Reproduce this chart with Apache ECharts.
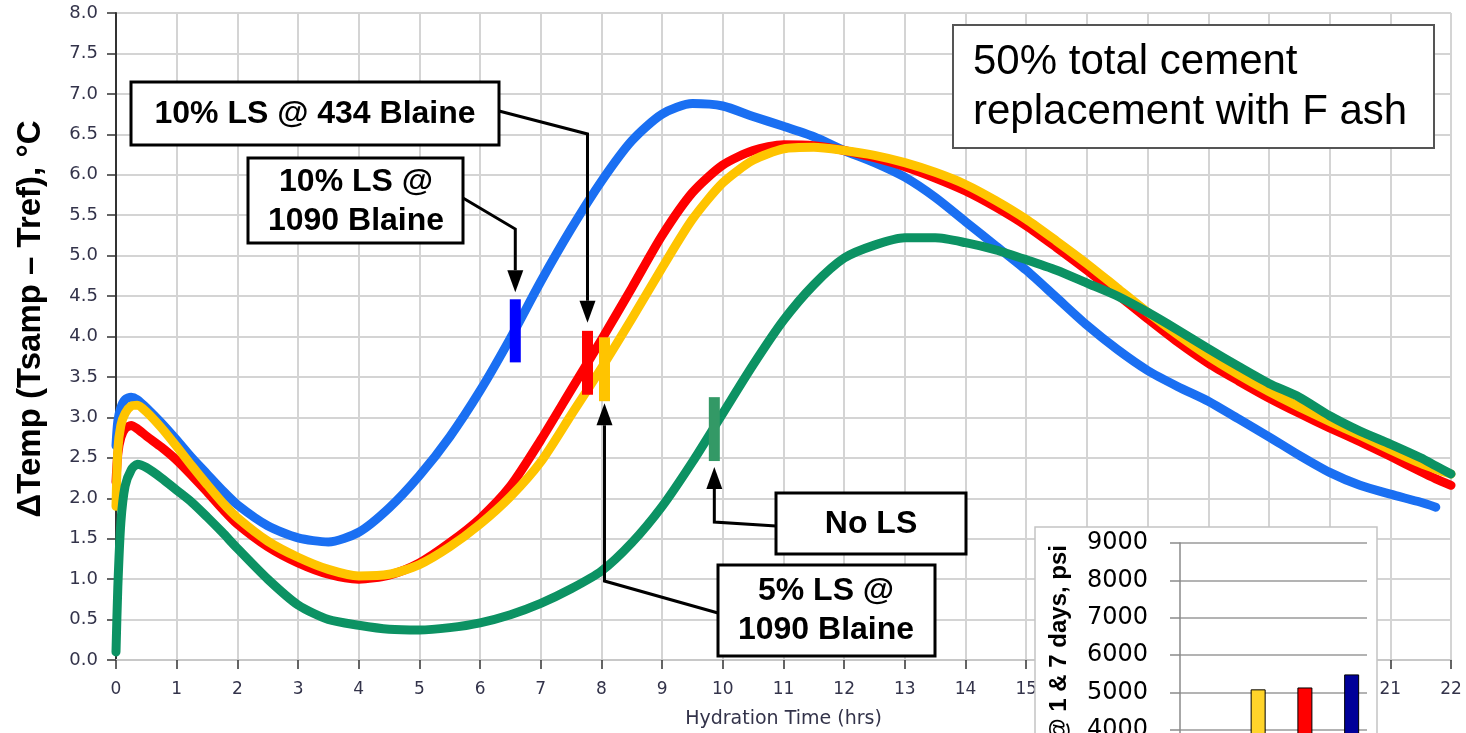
<!DOCTYPE html>
<html>
<head>
<meta charset="utf-8">
<script src="https://cdn.jsdelivr.net/npm/echarts/dist/echarts.min.js"></script>
<style>
  html, body { margin: 0; padding: 0; background: #fff; }
  #chart { width: 1466px; height: 733px; }
</style>
</head>
<body>
<div id="chart"></div>
<script>
// Hydration time (hrs) shared by all four calorimetry curves
const hours = [0, 0.03, 0.08, 0.15, 0.25, 0.35, 0.5, 0.75, 1, 1.25, 1.5, 1.75, 2, 2.5, 3, 3.5, 4, 4.5, 5, 5.5,
  6, 6.5, 7, 7.5, 8, 8.5, 9, 9.5, 10, 10.5, 11, 11.5, 12, 12.5, 13, 13.5, 14, 14.5, 15, 15.5,
  16, 16.5, 17, 17.5, 18, 18.5, 19, 19.5, 20, 20.5, 21, 21.5, 21.75, 22];

// ΔTemp (°C) per mix
const ls10Blaine1090 = [2.65, 2.95, 3.12, 3.22, 3.25, 3.22, 3.12, 2.93, 2.72, 2.5, 2.3, 2.1, 1.92, 1.66, 1.51, 1.46, 1.58, 1.88, 2.28, 2.76,
  3.33, 3.98, 4.68, 5.33, 5.92, 6.42, 6.75, 6.88, 6.85, 6.72, 6.6, 6.47, 6.3, 6.15, 5.97, 5.72, 5.42, 5.12, 4.82, 4.48,
  4.14, 3.84, 3.58, 3.38, 3.2, 2.98, 2.76, 2.53, 2.32, 2.16, 2.05, 1.95, 1.89, null];
const ls10Blaine434 = [2.2, 2.55, 2.75, 2.86, 2.9, 2.86, 2.77, 2.63, 2.47, 2.28, 2.08, 1.87, 1.68, 1.4, 1.2, 1.06, 1.0, 1.05, 1.2, 1.45,
  1.75, 2.15, 2.72, 3.34, 3.96, 4.6, 5.25, 5.78, 6.12, 6.3, 6.37, 6.36, 6.3, 6.21, 6.1, 5.96, 5.8, 5.6, 5.37, 5.1,
  4.82, 4.52, 4.22, 3.93, 3.67, 3.45, 3.24, 3.05, 2.87, 2.7, 2.52, 2.33, 2.24, 2.16];
const ls5Blaine1090 = [1.9, 2.6, 2.9, 3.05, 3.14, 3.15, 3.07, 2.87, 2.64, 2.4, 2.17, 1.95, 1.76, 1.47, 1.27, 1.12, 1.04, 1.06, 1.18, 1.4,
  1.68, 2.02, 2.45, 3.03, 3.61, 4.22, 4.85, 5.45, 5.9, 6.18, 6.32, 6.34, 6.3, 6.24, 6.15, 6.03, 5.88, 5.68, 5.45, 5.18,
  4.9, 4.6, 4.3, 4.02, 3.76, 3.53, 3.32, 3.13, 2.95, 2.78, 2.6, 2.43, 2.36, 2.3];
const noLS = [0.1, 0.9, 1.7, 2.15, 2.35, 2.42, 2.38, 2.25, 2.1, 1.95, 1.77, 1.58, 1.38, 1.0, 0.68, 0.5, 0.43, 0.38, 0.37, 0.4,
  0.46, 0.56, 0.7, 0.88, 1.1, 1.45, 1.9, 2.45, 3.05, 3.65, 4.2, 4.64, 4.97, 5.13, 5.22, 5.22, 5.16, 5.07, 4.95, 4.82,
  4.66, 4.5, 4.3, 4.08, 3.85, 3.63, 3.42, 3.25, 3.02, 2.83, 2.67, 2.5, 2.4, 2.3];

// Set-time markers: hour, low and high ΔTemp of each bar
// order: 10% LS @ 1090, 10% LS @ 434, 5% LS @ 1090, No LS
const setHours = [6.58, 7.77, 8.05, 9.86];
const setLow = [3.68, 3.28, 3.20, 2.46];
const setHigh = [4.46, 4.07, 3.99, 3.25];

// Inset: compressive strength, psi
const mixNames = ['No LS', '5% LS @ 1090 Blaine', '10% LS @ 434 Blaine', '10% LS @ 1090 Blaine'];
const strength1Day = [null, null, null, null];
const strength7Day = [null, 5080, 5130, 5480];
const strengthTicks = [0, 9000, 1000];

const yTicks = [0, 8, 0.5];
const xTicks = [0, 22, 1];

const curveColors = ['#1a6ff2', '#ff0000', '#ffc400', '#0c9263'];
const setColors = ['#0000ff', '#ff0000', '#ffc400', '#339966'];
const barColors = ['#0c9263', '#ffd42a', '#ff0000', '#000099'];

const chart = echarts.init(document.getElementById('chart'), null, { renderer: 'canvas' });

const tickFont = 'DejaVu Sans';
const boxFont = 'Liberation Sans';
const tickInk = '#33334a';

function curve(name, values, color) {
  return {
    name, type: 'line', xAxisIndex: 0, yAxisIndex: 0,
    data: hours.map((h, i) => [h, values[i]]),
    showSymbol: false, smooth: 0.25, connectNulls: false,
    lineStyle: { color, width: 9, cap: 'round', join: 'round' },
    z: 2, silent: true, animation: false
  };
}

chart.setOption({
  animation: false,
  backgroundColor: '#fff',
  grid: [
    { left: 116, top: 13, width: 1335, height: 647, outerBoundsMode: 'none' },
    // strength panel runs past the lower edge of the page
    { left: 1180, top: 543, width: 187, height: 336, outerBoundsMode: 'none' }
  ],
  xAxis: [
    {
      type: 'value', gridIndex: 0, min: xTicks[0], max: xTicks[1], interval: xTicks[2],
      name: 'Hydration Time (hrs)', nameLocation: 'middle', nameGap: 50,
      nameTextStyle: { fontFamily: tickFont, fontSize: 19, color: tickInk },
      axisLine: { show: true, lineStyle: { color: '#c8c8c8', width: 2 } },
      axisTick: { show: true, length: 9, lineStyle: { color: '#333', width: 1.5 } },
      axisLabel: { margin: 21, fontFamily: tickFont, fontSize: 17, color: tickInk },
      splitLine: { show: true, lineStyle: { color: '#d4d4d4', width: 2 } }
    },
    {
      type: 'category', gridIndex: 1, data: mixNames, z: 10,
      axisLine: { show: false }, axisTick: { show: false }, axisLabel: { show: false },
      splitLine: { show: false }
    }
  ],
  yAxis: [
    {
      type: 'value', gridIndex: 0, min: yTicks[0], max: yTicks[1], interval: yTicks[2],
      axisLine: { show: true, onZero: false, lineStyle: { color: '#333', width: 2 } },
      axisTick: { show: true, length: 9, lineStyle: { color: '#333', width: 1.5 } },
      axisLabel: { margin: 18, fontFamily: tickFont, fontSize: 18, color: tickInk,
        formatter: v => v.toFixed(1) },
      splitLine: { show: true, lineStyle: { color: '#d4d4d4', width: 2 } }
    },
    {
      type: 'value', gridIndex: 1, min: strengthTicks[0], max: strengthTicks[1], interval: strengthTicks[2], z: 10,
      axisLine: { show: true, lineStyle: { color: '#8a8a8a', width: 1.5 } },
      axisTick: { show: true, length: 10, lineStyle: { color: '#8a8a8a', width: 1.5 } },
      axisLabel: { margin: 32, fontFamily: tickFont, fontSize: 24, color: '#000',
        formatter: v => String(v) },
      splitLine: { show: true, lineStyle: { color: '#9a9a9a', width: 1.5 } }
    }
  ],
  series: [
    curve('10% LS @ 1090 Blaine', ls10Blaine1090, curveColors[0]),
    curve('10% LS @ 434 Blaine', ls10Blaine434, curveColors[1]),
    curve('5% LS @ 1090 Blaine', ls5Blaine1090, curveColors[2]),
    curve('No LS', noLS, curveColors[3]),
    {
      name: 'set', type: 'custom', xAxisIndex: 0, yAxisIndex: 0, z: 4, silent: true,
      encode: { x: 0, y: [1, 2] },
      data: setHours.map((h, i) => [h, setLow[i], setHigh[i], i]),
      renderItem: (params, api) => {
        const lo = api.coord([api.value(0), api.value(1)]);
        const hi = api.coord([api.value(0), api.value(2)]);
        return {
          type: 'rect',
          shape: { x: lo[0] - 5.5, y: hi[1], width: 11, height: lo[1] - hi[1] },
          style: { fill: setColors[api.value(3)] }
        };
      }
    },
    {
      name: '1 day', type: 'bar', xAxisIndex: 1, yAxisIndex: 1, z: 10, silent: true,
      barWidth: 15, barGap: '7%',
      data: strength1Day.map((v, i) => ({ value: v, itemStyle: { color: barColors[i] } })),
      itemStyle: { borderColor: '#000', borderWidth: 1 }
    },
    {
      name: '7 days', type: 'bar', xAxisIndex: 1, yAxisIndex: 1, z: 10, silent: true,
      barWidth: 15, barGap: '7%',
      data: strength7Day.map((v, i) => ({ value: v, itemStyle: { color: barColors[i] } })),
      itemStyle: { borderColor: '#000', borderWidth: 1 }
    }
  ]
});

// Annotation callouts, anchored to the set-time bars
const px = (h, v) => chart.convertToPixel({ xAxisIndex: 0, yAxisIndex: 0 }, [h, v]);
const blueTop = px(setHours[0], setHigh[0]);
const redTop = px(setHours[1], setHigh[1]);
const yellowBot = px(setHours[2], setLow[2]);
const greenBot = px(setHours[3], setLow[3]);

const ink = '#000';
const headW = 8, headH = 22;

function box(x, y, w, h, z) {
  return { type: 'rect', z, shape: { x, y, width: w, height: h },
    style: { fill: '#fff', stroke: ink, lineWidth: 3 } };
}
function label(text, x, y, z) {
  return { type: 'text', z, x, y,
    style: { text, fill: ink, font: 'bold 32px "' + boxFont + '"', align: 'center',
      verticalAlign: 'middle', lineHeight: 39 } };
}
function leader(points, tipX, tipY, down, z) {
  const baseY = down ? tipY - headH : tipY + headH;
  const path = points.concat([[tipX, baseY]]);
  return [
    { type: 'polyline', z, shape: { points: path }, style: { stroke: ink, lineWidth: 3, fill: null } },
    { type: 'polygon', z, shape: { points: [[tipX, tipY], [tipX - headW, baseY], [tipX + headW, baseY]] },
      style: { fill: ink } }
  ];
}

const Z = 20;
const redTip = redTop[1] - 8;
const blueTip = blueTop[1] - 7;
const greenTip = greenBot[1] + 6;
const yellowTip = yellowBot[1] + 2;

const graphics = [
  // plot title box
  { type: 'rect', z: Z, shape: { x: 953, y: 25, width: 481, height: 123 },
    style: { fill: '#fff', stroke: '#555', lineWidth: 2 } },
  { type: 'text', z: Z, x: 973, y: 62,
    style: { text: '50% total cement', fill: ink, font: '42px "' + boxFont + '"', align: 'left', verticalAlign: 'middle' } },
  { type: 'text', z: Z, x: 973, y: 112,
    style: { text: 'replacement with F ash', fill: ink, font: '42px "' + boxFont + '"', align: 'left', verticalAlign: 'middle' } },

  // y-axis title
  { type: 'text', z: Z, x: 31, y: 319, rotation: Math.PI / 2,
    style: { text: 'ΔTemp (Tsamp – Tref), °C', fill: ink, font: 'bold 33px "' + boxFont + '"',
      align: 'center', verticalAlign: 'middle' } },

  ...leader([[499, 111], [redTop[0], 134]], redTop[0], redTip, true, Z),
  box(131, 82, 368, 63, Z), label('10% LS @ 434 Blaine', 315, 114, Z),

  ...leader([[463, 198], [blueTop[0], 229]], blueTop[0], blueTip, true, Z),
  box(248, 158, 215, 85, Z), label('10% LS @\n1090 Blaine', 356, 202, Z),

  ...leader([[776, 526], [greenBot[0], 522]], greenBot[0], greenTip, false, Z),
  box(776, 493, 190, 61, Z), label('No LS', 871, 524, Z),

  ...leader([[718, 613], [yellowBot[0], 581]], yellowBot[0], yellowTip, false, Z),
  box(718, 565, 217, 91, Z), label('5% LS @\n1090 Blaine', 826, 611, Z),

  // inset panel
  { type: 'rect', z: 6, shape: { x: 1035, y: 527, width: 342, height: 230 },
    style: { fill: '#fff', stroke: '#c4c4c4', lineWidth: 1.5 } },
  { type: 'text', z: 11, x: 1059, y: 545, rotation: Math.PI / 2,
    style: { text: 'Compressive Strength @ 1 & 7 days, psi', fill: ink, font: 'bold 24px "' + boxFont + '"',
      align: 'right', verticalAlign: 'middle' } }
];

chart.setOption({ graphic: graphics });
</script>
</body>
</html>
